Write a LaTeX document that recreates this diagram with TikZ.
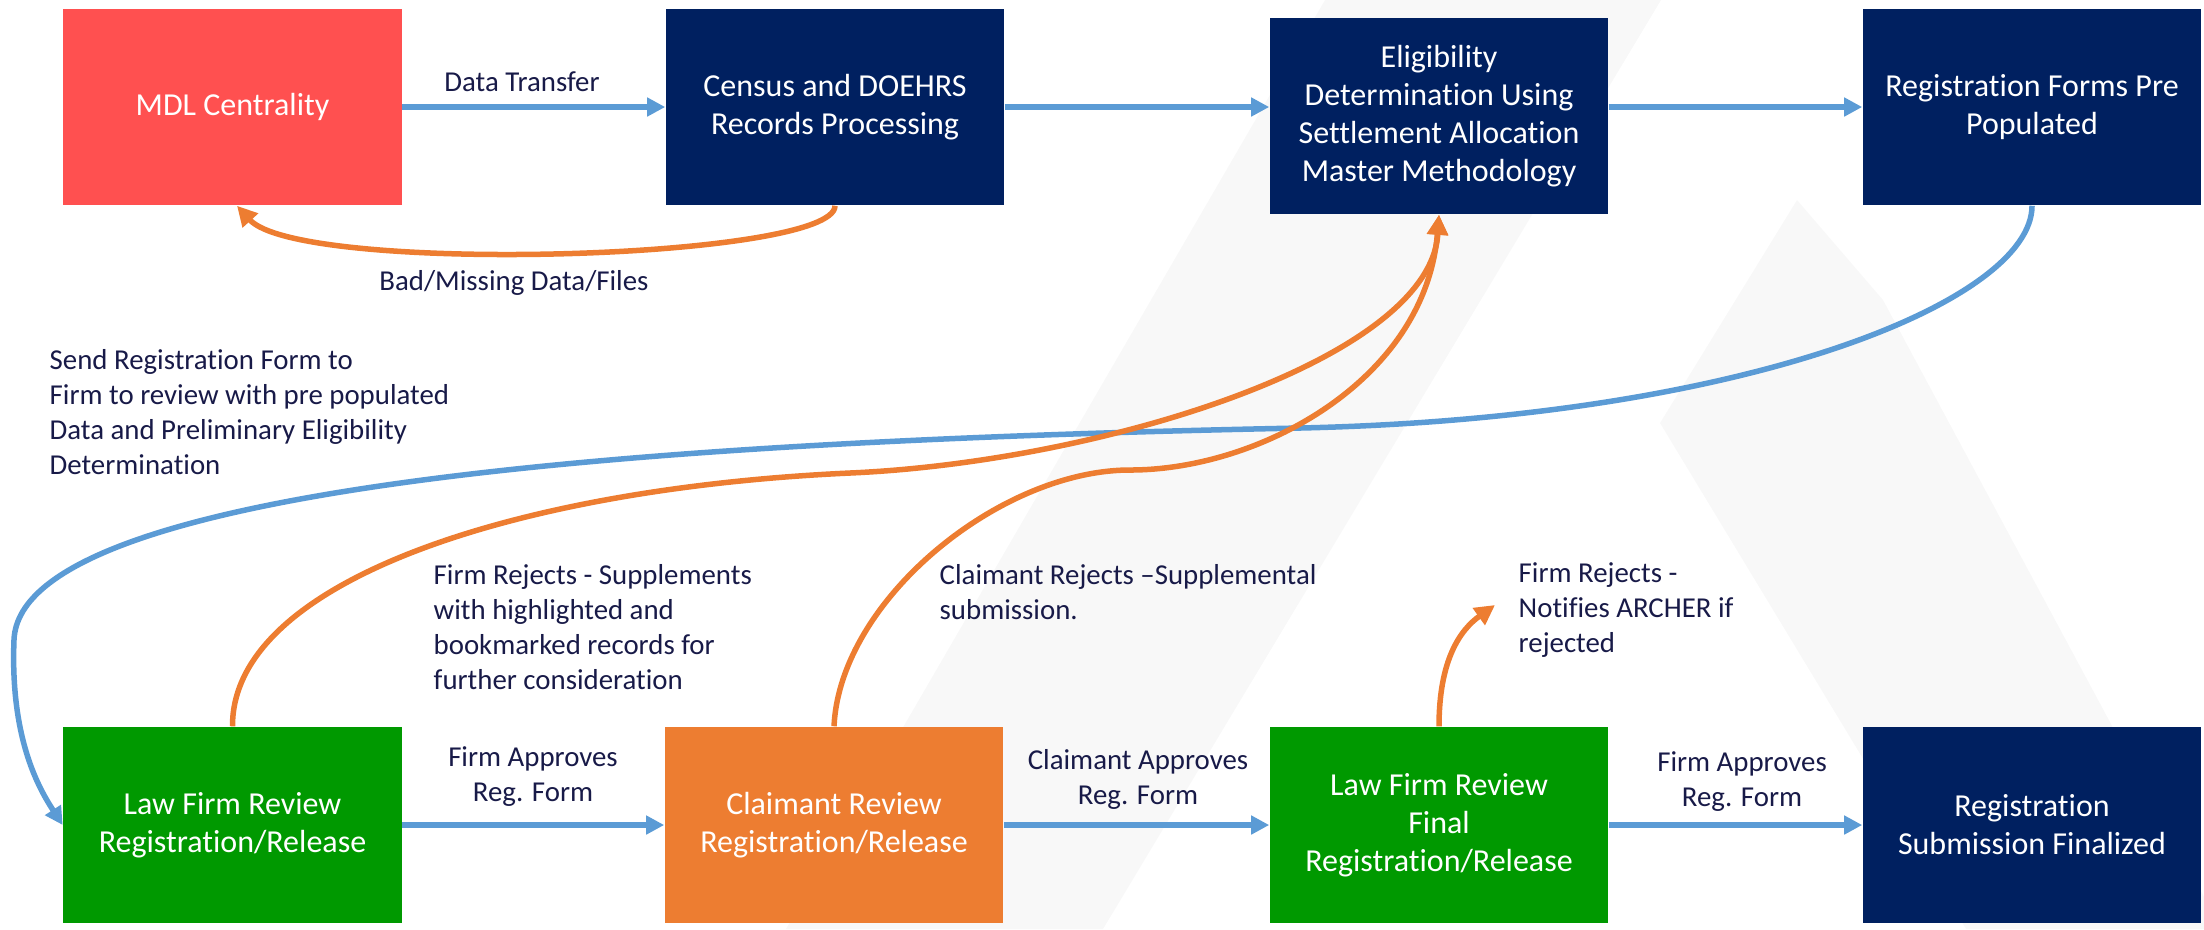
\documentclass[tikz,border=0pt]{standalone}
\usepackage{fontspec}
\setmainfont{Carlito}[Ligatures=CommonOff]
\usetikzlibrary{arrows.meta}
\definecolor{mdlred}{RGB}{255,80,80}
\definecolor{navy}{RGB}{0,32,96}
\definecolor{okgreen}{RGB}{0,153,0}
\definecolor{orng}{RGB}{237,125,49}
\definecolor{flowblue}{RGB}{91,155,213}
\definecolor{labelink}{RGB}{24,26,72}
\definecolor{wmgray}{RGB}{248,248,248}

\begin{document}
\begin{tikzpicture}[x=0.01cm, y=-0.01cm,
	stage/.style={minimum width=3.38cm, minimum height=1.96cm, inner sep=0pt, align=center, text=white, font=\fontsize{9.1}{10.8}\selectfont},
	lbl/.style={inner sep=0pt, text=labelink, font=\fontsize{8.2}{9.96}\selectfont},
	fwd/.style={draw=flowblue, line width=0.06cm, -{Triangle[length=0.18cm, width=0.18cm]}},
	rework/.style={draw=orng, line width=0.055cm, -{Triangle[length=0.2cm, width=0.2cm]}}]
			%%%%% START %%%%%
			\useasboundingbox (0, 0) rectangle (2204, 929);
			
			% watermark
			\fill[wmgray] (1325, 0) -- (1661, 0) -- (1103, 929) -- (786, 929) -- cycle;
			\fill[wmgray] (1797, 200) -- (1660, 423) -- (1966, 929) -- (2204, 929) -- (2204, 897) -- (1883, 300) -- cycle;
			
			\node[stage, fill=mdlred] (mdl) at (232.5, 107) {MDL Centrality};
			\node[stage, fill=navy] (census) at (835, 107) {Census and DOEHRS\\Records Processing};
			\node[stage, fill=navy] (elig) at (1439, 116) {Eligibility\\Determination Using\\Settlement Allocation\\Master Methodology};
			\node[stage, fill=navy] (regforms) at (2032, 107) {Registration Forms Pre\\Populated};
			
			\node[stage, fill=okgreen] (lawfirm) at (232.5, 825) {Law Firm Review\\Registration/Release};
			\node[stage, fill=orng] (claimant) at (834, 825) {Claimant Review\\Registration/Release};
			\node[stage, fill=okgreen] (final) at (1439, 825) {Law Firm Review\\Final\\Registration/Release};
			\node[stage, fill=navy] (submitted) at (2032, 825) {Registration\\Submission Finalized};
			
			\coordinate (notify) at (1495, 605);
			
			\draw[fwd] (mdl.east) -- (census.west);
			\draw[fwd] (census.east) -- (elig.west |- census.east);
			\draw[fwd] (elig.east |- regforms.west) -- (regforms.west);
			\draw[fwd] (lawfirm.east) -- (claimant.west);
			\draw[fwd] (claimant.east) -- (final.west);
			\draw[fwd] (final.east) -- (submitted.west);
			
			\draw[rework] (census.south) .. controls (835, 260) and (300, 275) .. ([xshift=0.045cm]mdl.south);
			
			\draw[fwd, line width=0.055cm] (regforms.south) .. controls (2032, 300) and (1750, 418) .. (1300, 428)
				.. controls (700, 440) and (20, 480) .. (14, 640)
				.. controls (10, 740) and (40, 790) .. (lawfirm.west);
			
			\draw[rework] (lawfirm.north) .. controls (232, 580) and (520, 488) .. (850, 473)
				.. controls (1100, 462) and (1430, 360) .. (elig.south);
			\draw[rework] (claimant.north) .. controls (840, 600) and (1000, 470) .. (1130, 470)
				.. controls (1260, 470) and (1425, 380) .. (elig.south);
			\draw[rework] (final.north) .. controls (1439, 660) and (1460, 630) .. (notify);
			
			\node[lbl] (transfer) at (522, 82) {Data Transfer};
			\node[lbl] (badfiles) at (514, 283) {Bad/Missing Data/Files};
			\node[lbl, align=left, anchor=west] (sendform) at (49, 412) {Send Registration Form to\\Firm to review with pre populated\\Data and Preliminary Eligibility\\Determination};
			\node[lbl, align=left, anchor=west] (firmrej) at (433, 627) {Firm Rejects - Supplements\\with highlighted and\\bookmarked records for\\further consideration};
			\node[lbl, align=left, anchor=west] (claimrej) at (939, 592) {Claimant Rejects --Supplemental\\submission.};
			\node[lbl, align=left, anchor=west] (finalrej) at (1518, 610) {Firm Rejects -\\Notifies ARCHER if\\rejected};
			\node[lbl, align=center] (firmok) at (533, 777) {Firm Approves\\Reg. Form};
			\node[lbl, align=center] (claimok) at (1138, 779) {Claimant Approves\\Reg. Form};
			\node[lbl, align=center] (finalok) at (1742, 782) {Firm Approves\\Reg. Form};
			%%%%% END %%%%%
\end{tikzpicture}
\end{document}
